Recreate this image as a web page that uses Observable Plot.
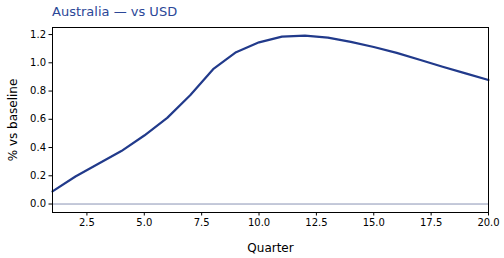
<!DOCTYPE html>
<html>
<head>
<meta charset="utf-8">
<script src="https://cdn.jsdelivr.net/npm/d3@7"></script>
<script src="https://cdn.jsdelivr.net/npm/@observablehq/plot@0.6"></script>
<style>
  html, body { margin: 0; padding: 0; background: #fff; }
  #wrap { width: 504px; height: 258px; position: relative; font-family: "DejaVu Sans", sans-serif; }
  #title { position: absolute; left: 52px; top: 4px; font-size: 13px; color: #2b4797; white-space: nowrap; }
  #chart { position: absolute; left: 0; top: 20px; }
</style>
</head>
<body>
<div id="wrap">
  <div id="title">Australia — vs USD</div>
  <div id="chart"></div>
</div>
<script>
const quarters = [1,2,3,4,5,6,7,8,9,10,11,12,13,14,15,16,17,18,19,20];
const values = [0.09,0.195,0.285,0.375,0.485,0.61,0.77,0.955,1.075,1.145,1.185,1.192,1.178,1.148,1.112,1.07,1.022,0.972,0.925,0.878];
const xTicks = [2.5,5,7.5,10,12.5,15,17.5,20];
const yTicks = [0,0.2,0.4,0.6,0.8,1.0,1.2];

const data = quarters.map((q, i) => ({q, v: values[i]}));

const chart = Plot.plot({
  width: 504,
  height: 238,
  marginTop: 7,
  marginBottom: 46,
  marginLeft: 52,
  marginRight: 16,
  style: {fontFamily: "DejaVu Sans, sans-serif", fontSize: "10px", color: "#000", background: "#fff"},
  x: {domain: [1, 20], ticks: xTicks, tickFormat: d3.format(".1f"), label: null},
  y: {domain: [-0.06, 1.25], ticks: yTicks, tickFormat: d3.format(".1f"), label: null},
  marks: [
    Plot.ruleY([0], {stroke: "#8a94b4", strokeWidth: 1}),
    Plot.line(data, {x: "q", y: "v", stroke: "#213a8b", strokeWidth: 2.2, curve: "linear"}),
    Plot.frame({stroke: "#000", strokeWidth: 1}),
    Plot.axisX({ticks: xTicks, tickFormat: d3.format(".1f"), tickSize: 3.5, tickPadding: 3, label: null, fontSize: 10}),
    Plot.axisY({ticks: yTicks, tickFormat: d3.format(".1f"), tickSize: 3.5, tickPadding: 3, label: null, fontSize: 10}),
    Plot.text(["Quarter"], {frameAnchor: "bottom", dy: 39, fontSize: 12, fill: "#000"}),
    Plot.text(["% vs baseline"], {frameAnchor: "left", textAnchor: "middle", dx: -39, rotate: -90, fontSize: 12, fill: "#000"})
  ]
});
document.getElementById("chart").appendChild(chart);
</script>
</body>
</html>
